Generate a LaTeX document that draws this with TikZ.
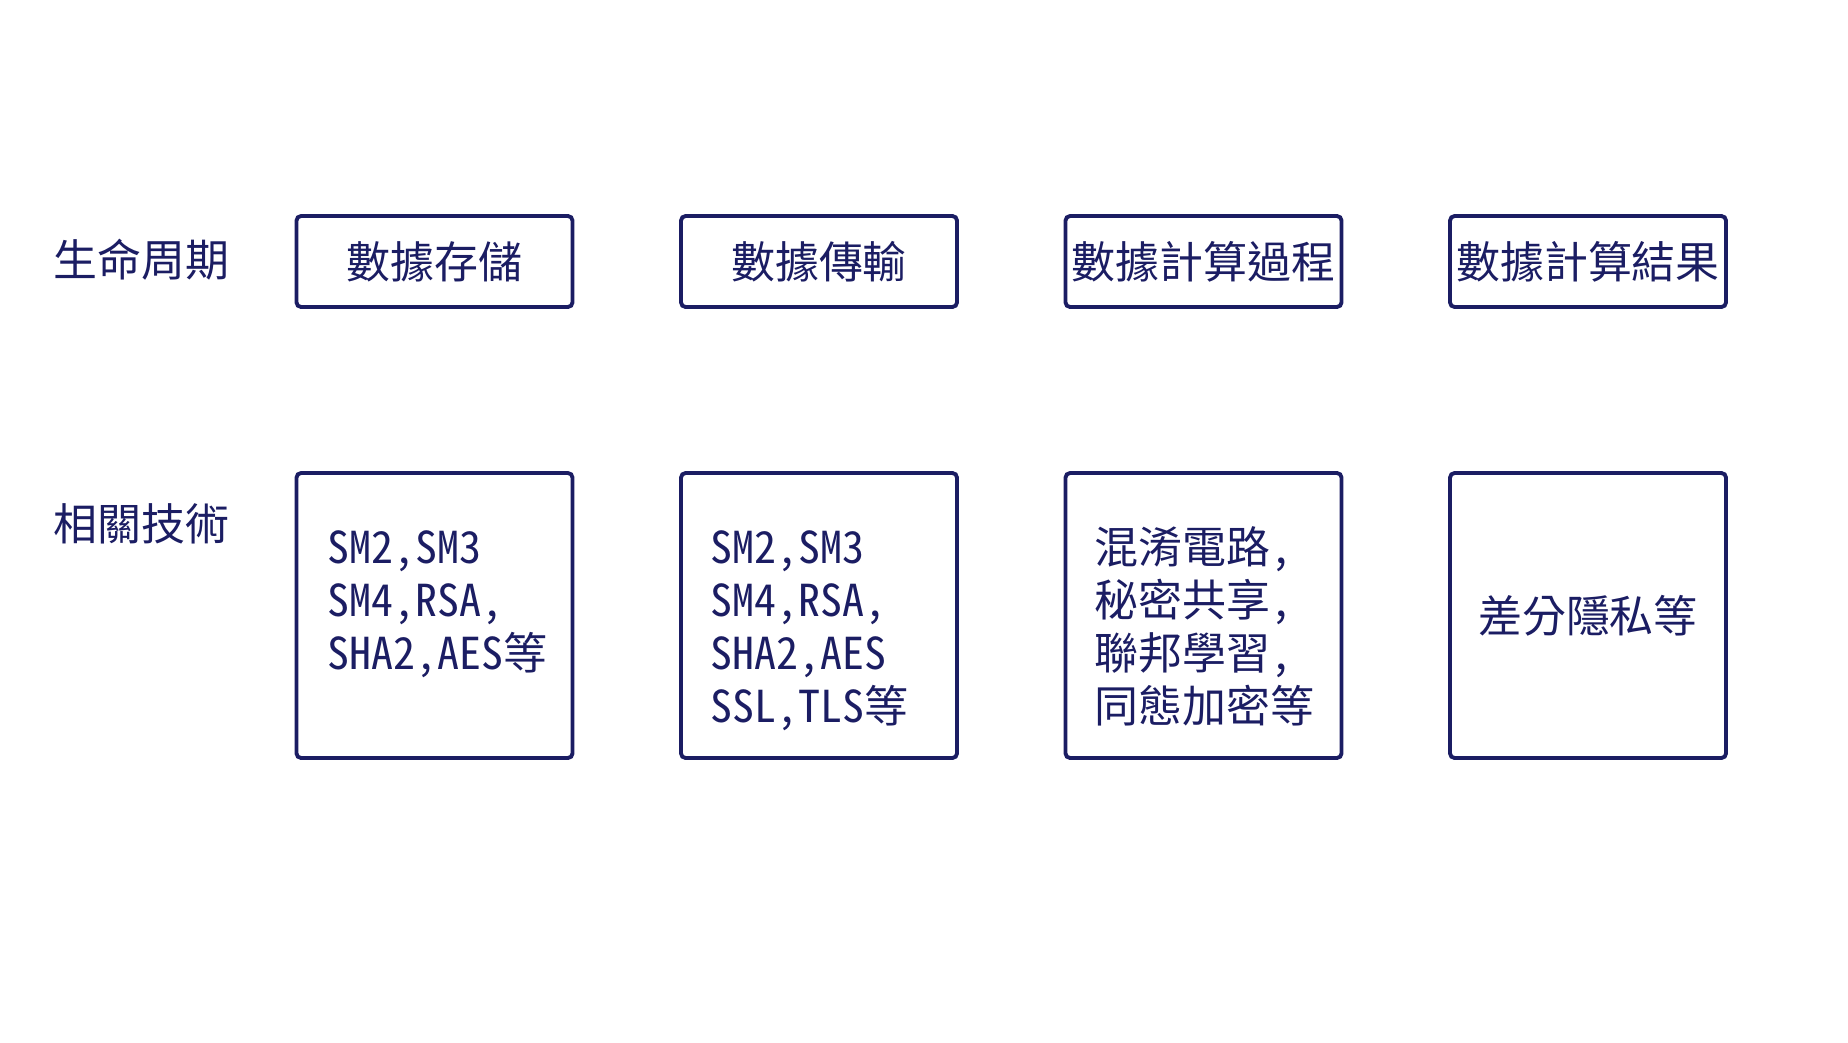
\documentclass[tikz,border=0pt]{standalone}
\usepackage{fontspec}
\setmainfont{Noto Sans Mono CJK TC}
\usepackage{xcolor}
\usepackage{tikz}
\usetikzlibrary{positioning}
\definecolor{navy}{HTML}{1B1D63}

\begin{document}
\begin{tikzpicture}[transform shape,scale=1,
	txt/.style={text=navy,inner sep=0pt,font=\fontsize{12.5}{15}\selectfont},
	stage/.style={txt,draw=navy,line width=1.1pt,rounded corners=1.3pt,minimum width=2.76cm,minimum height=0.91cm},
	techbox/.style={stage,minimum height=2.85cm}]
		\useasboundingbox (0,0) rectangle (18.48,-10.42);
		\node[txt,anchor=west] (life) at (0.53,-2.6) {生命周期};
		\node[txt,anchor=west] (tech) at (0.53,-5.24) {相關技術};
		\node[stage] (store) at (4.345,-2.615) {數據存儲};
		\node[stage] (trans) at (8.19,-2.615) {數據傳輸};
		\node[stage] (comp) at (12.035,-2.615) {數據計算過程};
		\node[stage] (result) at (15.88,-2.615) {數據計算結果};
		\node[techbox] (store tech) at (4.345,-6.155) {};
		\node[techbox] (trans tech) at (8.19,-6.155) {};
		\node[techbox] (comp tech) at (12.035,-6.155) {};
		\node[techbox] (result tech) at (15.88,-6.155) {差分隱私等};
		% base anchor sits on the last line
		\node[txt,align=left,anchor=base west] (store list) at (3.27,-6.69) {SM2,SM3\\SM4,RSA,\\SHA2,AES等};
		\node[txt,align=left,anchor=base west] (trans list) at (7.10,-7.22) {SM2,SM3\\SM4,RSA,\\SHA2,AES\\SSL,TLS等};
		\node[txt,align=left,anchor=base west] (comp list) at (10.94,-7.22) {混淆電路,\\秘密共享,\\聯邦學習,\\同態加密等};
	\end{tikzpicture}
\end{document}
